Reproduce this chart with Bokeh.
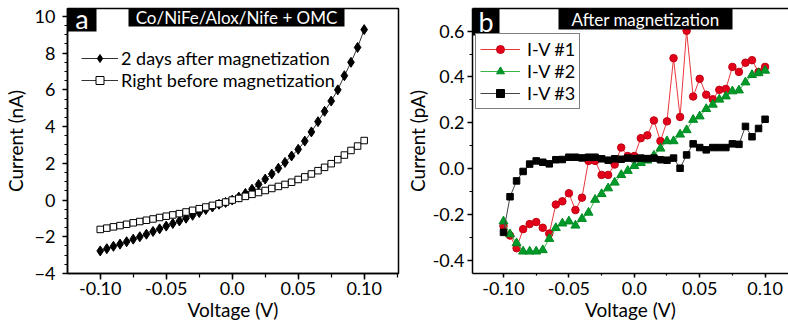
import numpy as np
from bokeh.plotting import figure
from bokeh.layouts import row
from bokeh.models import (Range1d, Legend, LegendItem, BoxAnnotation, Label, LinearAxis,
                          FixedTicker, SingleIntervalTicker, CustomJSTickFormatter)
from bokeh.embed import file_html
from bokeh.resources import INLINE

# ---------------- data ----------------
voltage = [-0.100, -0.095, -0.090, -0.085, -0.080, -0.075, -0.070, -0.065, -0.060, -0.055,
           -0.050, -0.045, -0.040, -0.035, -0.030, -0.025, -0.020, -0.015, -0.010, -0.005,
           0.000, 0.005, 0.010, 0.015, 0.020, 0.025, 0.030, 0.035, 0.040, 0.045,
           0.050, 0.055, 0.060, 0.065, 0.070, 0.075, 0.080, 0.085, 0.090, 0.095, 0.100]

# panel a (nA)
after_2_days = [-2.77, -2.65, -2.52, -2.40, -2.27, -2.13, -2.00, -1.86, -1.71, -1.57,
                -1.42, -1.28, -1.14, -0.99, -0.83, -0.68, -0.52, -0.38, -0.23, -0.13,
                0.00, 0.16, 0.36, 0.59, 0.85, 1.14, 1.42, 1.73, 2.05, 2.40,
                2.76, 3.21, 3.71, 4.27, 4.83, 5.39, 6.00, 6.77, 7.50, 8.31, 9.28]
right_before = [-1.60, -1.53, -1.46, -1.39, -1.32, -1.24, -1.17, -1.10, -1.03, -0.95,
                -0.88, -0.81, -0.74, -0.65, -0.56, -0.47, -0.38, -0.29, -0.20, -0.11,
                0.00, 0.09, 0.20, 0.31, 0.41, 0.52, 0.63, 0.74, 0.85, 0.97,
                1.12, 1.26, 1.42, 1.60, 1.78, 1.98, 2.20, 2.45, 2.70, 2.94, 3.24]

# panel b (pA)
iv1 = [-0.249, -0.290, -0.345, -0.262, -0.240, -0.231, -0.256, -0.281, -0.155, -0.141,
       -0.106, -0.179, -0.125, 0.035, 0.035, -0.026, -0.026, 0.019, 0.093, 0.056,
       0.056, 0.134, 0.146, 0.211, 0.121, 0.207, 0.482, 0.226, 0.601, 0.315,
       0.392, 0.323, 0.303, 0.344, 0.348, 0.444, 0.422, 0.462, 0.473, 0.422, 0.444]
iv2 = [-0.228, -0.284, -0.323, -0.359, -0.359, -0.359, -0.353, -0.304, -0.257, -0.237,
       -0.228, -0.246, -0.217, -0.190, -0.134, -0.109, -0.084, -0.059, -0.026, -0.008,
       0.013, 0.026, 0.037, 0.058, 0.089, 0.121, 0.121, 0.150, 0.169, 0.214,
       0.229, 0.261, 0.280, 0.302, 0.316, 0.338, 0.342, 0.377, 0.409, 0.417, 0.428]
iv3 = [-0.276, -0.121, -0.052, -0.011, 0.021, 0.035, 0.029, 0.022, 0.040, 0.041,
       0.051, 0.051, 0.048, 0.051, 0.051, 0.044, 0.038, 0.044, 0.042, 0.047,
       0.045, 0.047, 0.045, 0.047, 0.040, 0.038, 0.047, 0.003, 0.061, 0.109,
       0.093, 0.083, 0.093, 0.093, 0.093, 0.109, 0.107, 0.185, 0.140, 0.176, 0.216]

legend_a = ["2 days after magnetization", "Right before magnetization"]
legend_b = ["I-V #1", "I-V #2", "I-V #3"]
title_a = "Co/NiFe/Alox/Nife + OMC"
title_b = "After magnetization"

FONT = "Lato"
TICK_FS = "18px"
AXIS_FS = "19px"

xfmt = CustomJSTickFormatter(code="return Math.abs(tick) < 1e-9 ? '0.0' : tick.toFixed(2);")


def style_axes(p, xlab, ylab):
    for ax in (p.xaxis[0], p.yaxis[0]):
        ax.axis_line_width = 1.5
        ax.axis_line_color = "black"
        ax.major_tick_line_width = 1.5
        ax.minor_tick_line_width = 1.2
        ax.major_tick_line_color = "black"
        ax.minor_tick_line_color = "black"
        ax.major_tick_in = 0
        ax.minor_tick_in = 0
        ax.major_label_text_font = FONT
        ax.major_label_text_font_size = TICK_FS
        ax.major_label_text_color = "black"
        ax.axis_label_text_font = FONT
        ax.axis_label_text_font_size = AXIS_FS
        ax.axis_label_text_font_style = "normal"
        ax.axis_label_text_color = "black"
    p.xaxis[0].axis_label = xlab
    p.yaxis[0].axis_label = ylab
    p.xgrid.visible = False
    p.ygrid.visible = False


# ---------------- panel a ----------------
pa = figure(width=400, height=324, output_backend="svg", toolbar_location=None,
            x_range=Range1d(-0.1248, 0.126), y_range=Range1d(-4, 10.43),
            min_border_left=66, min_border_right=2, min_border_top=8, min_border_bottom=50,
            background_fill_color="white", border_fill_color="white")
pa.outline_line_color = "black"
pa.outline_line_width = 1.5
style_axes(pa, "Voltage (V)", "Current (nA)")
pa.xaxis[0].ticker = SingleIntervalTicker(interval=0.05, num_minor_ticks=2)
pa.xaxis[0].formatter = xfmt
pa.yaxis[0].ticker = SingleIntervalTicker(interval=2, num_minor_ticks=4)
pa.xaxis[0].major_tick_out = 6
pa.xaxis[0].minor_tick_out = 4
pa.yaxis[0].major_tick_out = 5
pa.yaxis[0].minor_tick_out = 3
pa.xaxis[0].major_label_standoff = 2
pa.xaxis[0].axis_label_standoff = 0
pa.yaxis[0].major_label_standoff = 7
pa.yaxis[0].axis_label_standoff = 5

la1 = pa.line(voltage, after_2_days, line_color="#333333", line_width=1)
ma1 = pa.scatter(voltage, after_2_days, marker="diamond", size=10,
                 fill_color="black", line_color="black")
la2 = pa.line(voltage, right_before, line_color="#333333", line_width=1)
ma2 = pa.scatter(voltage, right_before, marker="square", size=6.5,
                 fill_color="white", line_color="black", line_width=1)

leg_a = Legend(items=[LegendItem(label=legend_a[0], renderers=[la1, ma1]),
                      LegendItem(label=legend_a[1], renderers=[la2, ma2])],
               location=(14, 182), border_line_color=None, background_fill_alpha=0,
               padding=0, margin=0, spacing=0, glyph_width=37, glyph_height=20,
               label_height=20, label_standoff=3, label_text_font=FONT,
               label_text_font_size=TICK_FS, label_text_color="black")
pa.add_layout(leg_a)

pa.add_layout(BoxAnnotation(left=0, right=29, top=266, bottom=242,
                            left_units="screen", right_units="screen",
                            top_units="screen", bottom_units="screen",
                            fill_color="black", fill_alpha=1, line_color=None))
pa.add_layout(BoxAnnotation(left=61, right=277, top=266, bottom=247,
                            left_units="screen", right_units="screen",
                            top_units="screen", bottom_units="screen",
                            fill_color="black", fill_alpha=1, line_color=None))
pa.add_layout(Label(x=14.5, y=255, x_units="screen", y_units="screen", text="a",
                    text_align="center", text_baseline="middle", text_color="white",
                    text_font=FONT, text_font_size="27px"))
pa.add_layout(Label(x=169, y=256, x_units="screen", y_units="screen", text=title_a,
                    text_align="center", text_baseline="middle", text_color="white",
                    text_font=FONT, text_font_size="17px"))

# ---------------- panel b ----------------
pb = figure(width=388, height=324, output_backend="svg", toolbar_location=None,
            x_range=Range1d(-0.1237, 0.1179), y_range=Range1d(-0.455, 0.698),
            min_border_left=72, min_border_right=0, min_border_top=8, min_border_bottom=51,
            background_fill_color="white", border_fill_color="white")
pb.outline_line_color = None
style_axes(pb, "Voltage (V)", "Current (pA)")
pb.xaxis[0].ticker = SingleIntervalTicker(interval=0.05, num_minor_ticks=2)
pb.xaxis[0].formatter = xfmt
pb.yaxis[0].ticker = SingleIntervalTicker(interval=0.2, num_minor_ticks=2)
pb.yaxis[0].formatter = CustomJSTickFormatter(code="return tick.toFixed(1);")
pb.xaxis[0].major_tick_out = 4
pb.xaxis[0].minor_tick_out = 2
pb.yaxis[0].major_tick_out = 5
pb.yaxis[0].minor_tick_out = 3
pb.xaxis[0].major_label_standoff = 4
pb.xaxis[0].axis_label_standoff = 0
pb.yaxis[0].major_label_standoff = 3
pb.yaxis[0].axis_label_standoff = 1

top_axis = LinearAxis(ticker=FixedTicker(ticks=[]), axis_line_width=1.5,
                      axis_line_color="black", major_label_text_font_size="0px")
pb.add_layout(top_axis, "above")

lb1 = pb.line(voltage, iv1, line_color="#e8383b", line_width=1)
mb1 = pb.scatter(voltage, iv1, marker="circle", size=7.5, fill_color="#e3001b",
                 line_color="#c00010", line_width=1)
lb2 = pb.line(voltage, iv2, line_color="#3bb54a", line_width=1)
mb2 = pb.scatter(voltage, iv2, marker="triangle", size=9, fill_color="#009a2a",
                 line_color="#008a20", line_width=1)
lb3 = pb.line(voltage, iv3, line_color="#444444", line_width=1)
mb3 = pb.scatter(voltage, iv3, marker="square", size=6.5, fill_color="black",
                 line_color="black", line_width=1)

leg_b = Legend(items=[LegendItem(label=legend_b[0], renderers=[lb1, mb1]),
                      LegendItem(label=legend_b[1], renderers=[lb2, mb2]),
                      LegendItem(label=legend_b[2], renderers=[lb3, mb3])],
               location=(3, 164), border_line_color="black", border_line_width=1.5,
               background_fill_color="white", background_fill_alpha=1,
               padding=4, margin=0, spacing=0, glyph_width=40, glyph_height=20,
               label_height=20, label_standoff=7, label_text_font=FONT,
               label_text_font_size=TICK_FS, label_text_color="black")
pb.add_layout(leg_b)

pb.add_layout(BoxAnnotation(left=0, right=27, top=265, bottom=238,
                            left_units="screen", right_units="screen",
                            top_units="screen", bottom_units="screen",
                            fill_color="black", fill_alpha=1, line_color=None))
pb.add_layout(BoxAnnotation(left=86, right=260, top=265, bottom=244,
                            left_units="screen", right_units="screen",
                            top_units="screen", bottom_units="screen",
                            fill_color="black", fill_alpha=1, line_color=None))
pb.add_layout(Label(x=13.5, y=252, x_units="screen", y_units="screen", text="b",
                    text_align="center", text_baseline="middle", text_color="white",
                    text_font=FONT, text_font_size="27px"))
pb.add_layout(Label(x=173, y=254.5, x_units="screen", y_units="screen", text=title_b,
                    text_align="center", text_baseline="middle", text_color="white",
                    text_font=FONT, text_font_size="17px"))

layout = row(pa, pb, spacing=0)
open("out.html", "w").write(file_html(layout, INLINE))
